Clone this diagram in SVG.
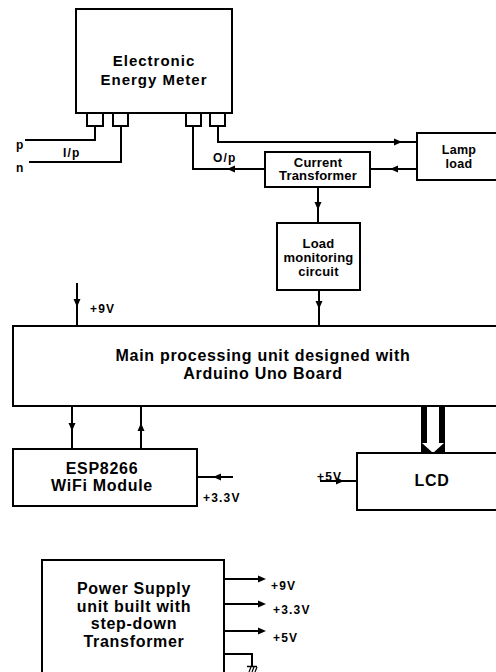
<svg xmlns="http://www.w3.org/2000/svg" xmlns:xlink="http://www.w3.org/1999/xlink" width="496" height="672" viewBox="0 0 496 672">
<style>
.box{fill:#fff;stroke:#000;stroke-width:2}
.ln{fill:none;stroke:#000;stroke-width:2}
.t{font-family:"Liberation Sans",Arial,sans-serif;font-weight:bold;fill:#000;text-anchor:middle}
.big{font-size:16px;letter-spacing:0.7px}
.med{font-size:13px;letter-spacing:0.2px}
.sm{font-family:"Liberation Sans",Arial,sans-serif;font-weight:bold;font-size:12px;letter-spacing:1.2px;fill:#000}
</style>
<defs>
<path id="ah" d="M0,0 L-8,-3.5 L-8,3.5 Z" fill="#000"/>
</defs>
<rect width="496" height="672" fill="#fff"/>

<g id="connectors">
<!-- input p / n -->
<polyline class="ln" points="25,140 95,140 95,126"/>
<polyline class="ln" points="29,162 121,162 121,126"/>
<!-- meter to lamp -->
<polyline class="ln" points="218,126 218,142 417,142"/>
<use href="#ah" transform="translate(402,142)"/>
<!-- lamp to CT -->
<line class="ln" x1="417" y1="169" x2="370" y2="169"/>
<use href="#ah" transform="translate(390,169) rotate(180)"/>
<!-- CT to meter O/p -->
<polyline class="ln" points="265,169 193,169 193,126"/>
<use href="#ah" transform="translate(227,169) rotate(180)"/>
<!-- CT to load monitoring -->
<line class="ln" x1="318" y1="187" x2="318" y2="223"/>
<use href="#ah" transform="translate(318,210) rotate(90)"/>
<!-- load monitoring to main -->
<line class="ln" x1="319" y1="290" x2="319" y2="326"/>
<use href="#ah" transform="translate(319,309) rotate(90)"/>
<!-- +9V to main -->
<line class="ln" x1="77" y1="283" x2="77" y2="326"/>
<use href="#ah" transform="translate(77,307) rotate(90)"/>
<!-- main to ESP -->
<line class="ln" x1="72" y1="406" x2="72" y2="449"/>
<use href="#ah" transform="translate(72,431) rotate(90)"/>
<line class="ln" x1="141" y1="449" x2="141" y2="406"/>
<use href="#ah" transform="translate(141,423) rotate(-90)"/>
<!-- +3.3V to ESP -->
<line class="ln" x1="233" y1="477" x2="197" y2="477"/>
<use href="#ah" transform="translate(213,477) rotate(180)"/>
<!-- +5V to LCD -->
<line class="ln" x1="320" y1="481" x2="357" y2="481"/>
<use href="#ah" transform="translate(344,481)"/>
<!-- main to LCD bus arrow -->
<rect x="421" y="406" width="24" height="47" fill="#000"/>
<rect x="427" y="406" width="12" height="37" fill="#fff"/>
<polygon points="422,443 444,443 433,453" fill="#fff"/>
<!-- power supply outputs -->
<line class="ln" x1="224" y1="579" x2="258" y2="579"/>
<use href="#ah" transform="translate(266,579)"/>
<line class="ln" x1="224" y1="604" x2="258" y2="604"/>
<use href="#ah" transform="translate(266,604)"/>
<line class="ln" x1="224" y1="631" x2="258" y2="631"/>
<use href="#ah" transform="translate(266,631)"/>
<!-- ground -->
<polyline class="ln" points="224,654 252,654 252,666"/>
<line x1="247" y1="666.5" x2="257" y2="666.5" stroke="#000" stroke-width="1.5"/>
<path d="M249,672 L251,667 M252,672 L254,667 M255,672 L257,667" stroke="#000" stroke-width="1.2" fill="none"/>
</g>

<g id="meter">
<rect class="box" x="76" y="9" width="156" height="104"/>
<rect class="box" x="87" y="113" width="16" height="13"/>
<rect class="box" x="113" y="113" width="15" height="13"/>
<rect class="box" x="186" y="113" width="15" height="13"/>
<rect class="box" x="210" y="113" width="15" height="13"/>
<text class="t" x="154" y="66" font-size="15" letter-spacing="1">Electronic</text>
<text class="t" x="154" y="85" font-size="15" letter-spacing="1">Energy Meter</text>
</g>

<g id="labels-io">
<text class="sm" x="16" y="149" letter-spacing="0">p</text>
<text class="sm" x="16" y="172" letter-spacing="0">n</text>
<text class="sm" x="63" y="157" letter-spacing="0.5">I/p</text>
<text class="sm" x="213" y="162" font-size="13" letter-spacing="0.5">O/p</text>
</g>

<g id="lamp">
<rect class="box" x="417" y="133" width="90" height="47"/>
<text class="t" x="459" y="154" font-size="12.5" letter-spacing="0.3">Lamp</text>
<text class="t" x="459" y="168" font-size="12.5" letter-spacing="0.3">load</text>
</g>

<g id="ct">
<rect class="box" x="265" y="152" width="105" height="35"/>
<text class="t med" x="318" y="166.5">Current</text>
<text class="t med" x="318" y="180">Transformer</text>
</g>

<g id="load-monitor">
<rect class="box" x="277" y="223" width="83" height="67"/>
<text class="t med" x="318.5" y="248">Load</text>
<text class="t med" x="318.5" y="262">monitoring</text>
<text class="t med" x="318.5" y="276">circuit</text>
</g>

<g id="main">
<rect class="box" x="13" y="326" width="495" height="80"/>
<text class="t big" x="263" y="361">Main processing unit designed with</text>
<text class="t big" x="263" y="379">Arduino Uno Board</text>
<text class="sm" x="90" y="313">+9V</text>
</g>

<g id="esp">
<rect class="box" x="13" y="449" width="184" height="57"/>
<text class="t big" x="102" y="473.5">ESP8266</text>
<text class="t big" x="102" y="491">WiFi Module</text>
<text class="sm" x="203" y="502">+3.3V</text>
</g>

<g id="lcd">
<rect class="box" x="357" y="453" width="150" height="57"/>
<text class="t big" x="432" y="486" letter-spacing="0.5">LCD</text>
<text class="sm" x="317" y="481" letter-spacing="0.3">+5V</text>
</g>

<g id="power">
<rect class="box" x="42" y="560" width="182" height="130"/>
<text class="t big" x="134" y="594">Power Supply</text>
<text class="t big" x="134" y="611.5">unit built with</text>
<text class="t big" x="134" y="629">step-down</text>
<text class="t big" x="134" y="646.5">Transformer</text>
<text class="sm" x="271" y="590">+9V</text>
<text class="sm" x="273" y="614">+3.3V</text>
<text class="sm" x="273" y="642">+5V</text>
</g>
</svg>
